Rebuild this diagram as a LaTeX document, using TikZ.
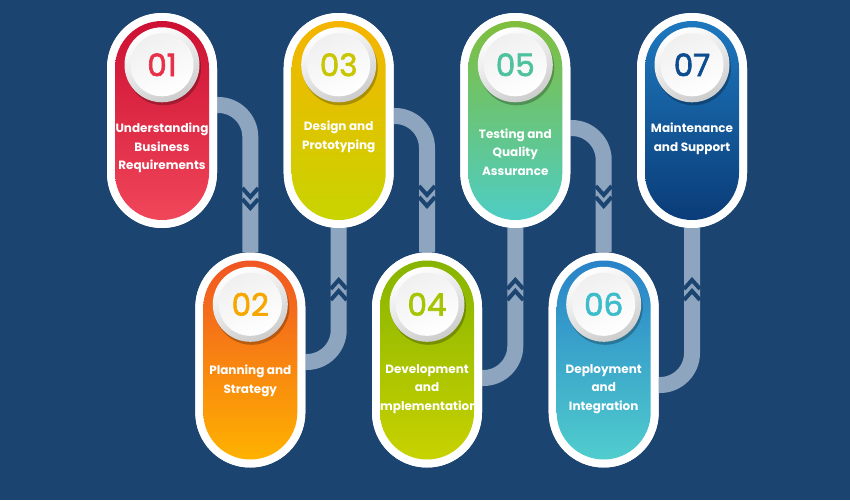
\documentclass[tikz,border=0pt]{standalone}
\usepackage{fontspec}
\setmainfont{Poppins}
\newfontfamily\numfont{Poppins}[FakeBold=2]
\usetikzlibrary{shadows}
\definecolor{bgblue}{HTML}{1C4471}
\definecolor{connc}{HTML}{8EA5C0}
\definecolor{aT}{HTML}{CD1032}\definecolor{aM}{HTML}{E21B3F}\definecolor{aB}{HTML}{F0465A}
\definecolor{bT}{HTML}{F05523}\definecolor{bM}{HTML}{F88C1E}\definecolor{bB}{HTML}{FFB200}
\definecolor{cT}{HTML}{F5B400}\definecolor{cM}{HTML}{E1C800}\definecolor{cB}{HTML}{C8D400}
\definecolor{dT}{HTML}{87B400}\definecolor{dM}{HTML}{A9C600}\definecolor{dB}{HTML}{C8D200}
\definecolor{eT}{HTML}{80BE3C}\definecolor{eM}{HTML}{6CC482}\definecolor{eB}{HTML}{4ECDC4}
\definecolor{fT}{HTML}{2882C8}\definecolor{fM}{HTML}{3CAACD}\definecolor{fB}{HTML}{50CDCD}
\definecolor{gT}{HTML}{1E78BE}\definecolor{gM}{HTML}{145596}\definecolor{gB}{HTML}{0A3C78}
\definecolor{nA}{HTML}{E83048}\definecolor{nB}{HTML}{F6A800}\definecolor{nC}{HTML}{C8C600}
\definecolor{nD}{HTML}{A6C400}\definecolor{nE}{HTML}{4EC29E}\definecolor{nF}{HTML}{3DBCCB}
\definecolor{nG}{HTML}{0D4C8E}
\tikzset{
  outerpill/.style={rectangle, fill=white, rounded corners=55pt, minimum width=110pt, minimum height=215pt, inner sep=0pt},
  innerpill/.style={rectangle, rounded corners=47pt, minimum width=94pt, minimum height=199pt, inner sep=0pt},
  ringdisk/.style={circle, minimum size=75pt, inner sep=0pt, top color=white, bottom color=black!20, shading angle=25,
    drop shadow={shadow xshift=1.5pt, shadow yshift=-3pt, opacity=0.25, fill=black}},
  coredisk/.style={circle, minimum size=63pt, inner sep=0pt, top color=black!6, bottom color=white, shading angle=25,
    font=\numfont\fontsize{31}{33}\selectfont},
  lbl/.style={align=center, text=white, font=\bfseries\fontsize{12}{18.5}\selectfont, inner sep=0pt},
  conn/.style={draw=connc, line width=16pt, rounded corners=32pt},
  chev/.style={draw=bgblue, line width=4pt},
  chevdown/.pic={\draw[chev] (-8,0) -- (0,9) -- (8,0); \draw[chev] (-8,11) -- (0,20) -- (8,11);},
  chevup/.pic={\draw[chev] (-8,0) -- (0,-9) -- (8,0); \draw[chev] (-8,-11) -- (0,-20) -- (8,-11);}
}
\begin{document}
\begin{tikzpicture}[x=1pt,y=-1pt]
\fill[bgblue] (0,0) rectangle (850,500);
\useasboundingbox (0,0) rectangle (850,500);
% pill outlines (positions)
\path (162,120.5) node[outerpill] (p1) {};
\path (250.3,360) node[outerpill] (p2) {};
\path (338.7,120.5) node[outerpill] (p3) {};
\path (427,360) node[outerpill] (p4) {};
\path (515.3,120.5) node[outerpill] (p5) {};
\path (603.7,360) node[outerpill] (p6) {};
\path (692,120.5) node[outerpill] (p7) {};
% connectors
\draw[conn] (p1.center |- 0,105) -| (p2.north);
\draw[conn] (p2.center |- 0,362) -| (p3.south);
\draw[conn] (p3.center |- 0,116) -| (p4.north);
\draw[conn] (p4.center |- 0,378) -| (p5.south);
\draw[conn] (p5.center |- 0,128) -| (p6.north);
\draw[conn] (p6.center |- 0,385) -| (p7.south);
\pic at (p2.north |- 0,188) {chevdown};
\pic at (p4.north |- 0,186) {chevdown};
\pic at (p6.north |- 0,186) {chevdown};
\pic at (p3.south |- 0,300) {chevup};
\pic at (p5.south |- 0,300) {chevup};
\pic at (p7.south |- 0,300) {chevup};
% pills on top
\foreach \n/\c/\nc in {1/a/nA,2/b/nB,3/c/nC,4/d/nD,5/e/nE,6/f/nF,7/g/nG}{
  \node[outerpill] at (p\n) {};
  \node[innerpill, top color=\c T, middle color=\c M, bottom color=\c B] (i\n) at (p\n) {};
  \node[ringdisk] (c\n) at ([yshift=-52pt]p\n.north) {};
  \node[coredisk, text=\nc] (n\n) at (c\n) {0\n};
}
% labels
\node[lbl] (t1) at (162,148) {Understanding\\Business\\Requirements};
\node[lbl] (t2) at (250.3,381) {Planning and\\Strategy};
\node[lbl] (t3) at (338.7,137) {Design and\\Prototyping};
\node[lbl] (t4) at (427,389) {Development\\and\\Implementation};
\node[lbl] (t5) at (515.3,152) {Testing and\\Quality\\Assurance};
\node[lbl] (t6) at (603.7,389) {Deployment\\and\\Integration};
\node[lbl] (t7) at (692,139) {Maintenance\\and Support};
\end{tikzpicture}
\end{document}
